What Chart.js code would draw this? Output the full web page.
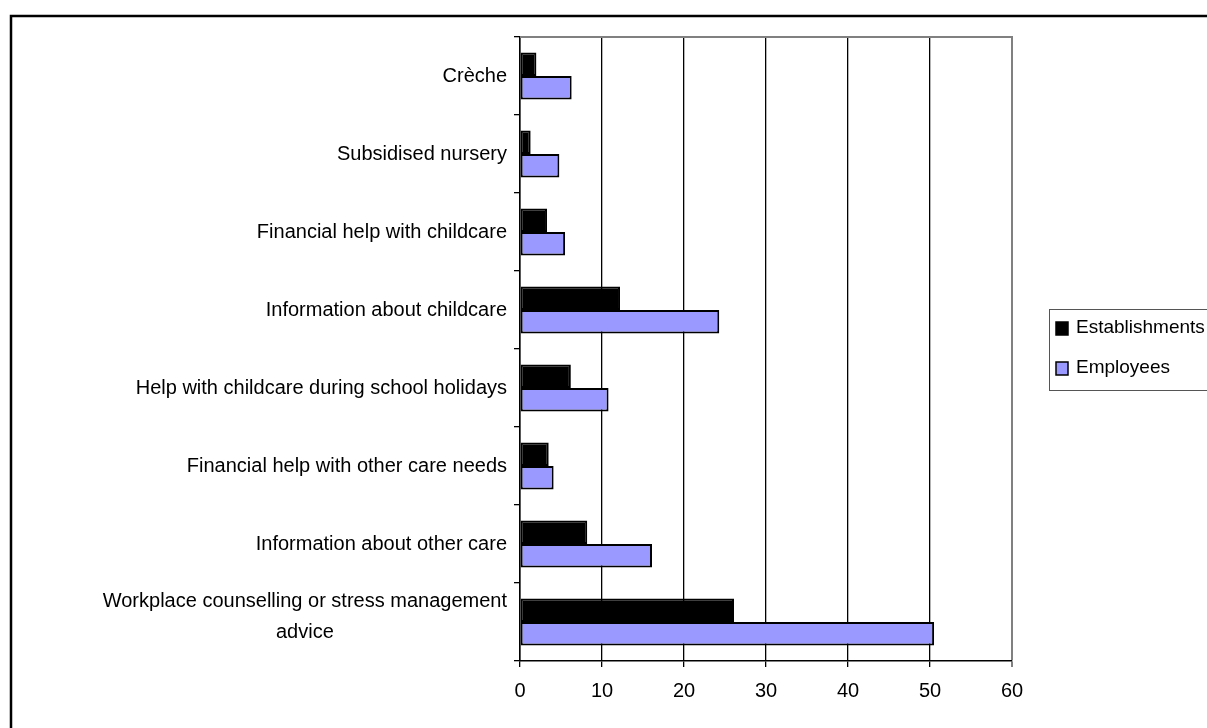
<!DOCTYPE html>
<html>
<head>
<meta charset="utf-8">
<script src="https://cdn.jsdelivr.net/npm/chart.js@4"></script>
<style>
  html, body { margin: 0; padding: 0; background: #fff; overflow: hidden; }
  #wrap { width: 1207px; height: 728px; position: relative; }
</style>
</head>
<body>
<div id="wrap"><canvas id="myChart" width="1207" height="728"></canvas></div>
<script>
const categories = [
  'Crèche',
  'Subsidised nursery',
  'Financial help with childcare',
  'Information about childcare',
  'Help with childcare during school holidays',
  'Financial help with other care needs',
  'Information about other care',
  ['Workplace counselling or stress management', 'advice']
];
const establishments = [2, 1.3, 3.3, 12.2, 6.2, 3.5, 8.2, 26.1];
const employees = [6.3, 4.8, 5.5, 24.3, 10.8, 4.1, 16.1, 50.5];
const xTicks = [0, 10, 20, 30, 40, 50, 60];

const FONT = '"Liberation Sans", Arial, sans-serif';

// frame, plot border, category labels and legend box
const extras = {
  id: 'extras',
  beforeDraw(chart) {
    const ctx = chart.ctx;
    ctx.save();
    ctx.fillStyle = '#fff';
    ctx.fillRect(0, 0, chart.width, chart.height);
    ctx.strokeStyle = '#000';
    ctx.lineWidth = 2.5;
    ctx.strokeRect(11, 16, 1400, 900);
    ctx.restore();
  },
  afterDraw(chart) {
    const ctx = chart.ctx;
    const area = chart.chartArea;
    const y = chart.scales.y;
    ctx.save();
    // top border of the plot
    ctx.strokeStyle = '#808080';
    ctx.lineWidth = 2;
    ctx.beginPath();
    ctx.moveTo(area.left, area.top);
    ctx.lineTo(area.right + 1, area.top);
    ctx.stroke();

    // category labels
    ctx.fillStyle = '#000';
    ctx.font = '20px ' + FONT;
    ctx.textBaseline = 'middle';
    ctx.textAlign = 'center';
    const right = area.left - 13;
    categories.forEach((lab, i) => {
      const lines = Array.isArray(lab) ? lab : [lab];
      const widest = Math.max(...lines.map(l => ctx.measureText(l).width));
      const cx = right - widest / 2;
      const lh = 31;
      const cy = y.getPixelForValue(i) - (lines.length > 1 ? 5 : 0);
      const y0 = cy - (lines.length - 1) * lh / 2;
      lines.forEach((l, k) => ctx.fillText(l, cx, y0 + k * lh));
    });

    // legend
    const lx = 1049, ly = 309;
    ctx.strokeStyle = '#555';
    ctx.lineWidth = 1;
    ctx.strokeRect(lx + 0.5, ly + 0.5, 200, 81);
    ctx.textAlign = 'left';
    ctx.font = '19px ' + FONT;
    chart.data.datasets.forEach((ds, k) => {
      const iy = ly + 19 + k * 40;
      ctx.fillStyle = ds.backgroundColor;
      ctx.fillRect(lx + 7, iy - 6, 12, 13);
      ctx.strokeStyle = '#000';
      ctx.lineWidth = 1.5;
      ctx.strokeRect(lx + 7, iy - 6, 12, 13);
      ctx.fillStyle = '#000';
      ctx.fillText(ds.label, lx + 27, iy);
    });
    ctx.restore();
  }
};

new Chart(document.getElementById('myChart').getContext('2d'), {
  type: 'bar',
  data: {
    labels: categories,
    datasets: [
      {
        label: 'Establishments',
        data: establishments,
        backgroundColor: '#000000',
        borderColor: '#000000',
        borderWidth: 2,
        borderSkipped: false
      },
      {
        label: 'Employees',
        data: employees,
        backgroundColor: '#9999ff',
        borderColor: '#000000',
        borderWidth: 2,
        borderSkipped: false
      }
    ]
  },
  plugins: [extras],
  options: {
    indexAxis: 'y',
    responsive: false,
    animation: false,
    layout: { padding: { left: 0, top: 37, right: 195, bottom: 0 } },
    datasets: { bar: { barPercentage: 1, categoryPercentage: 0.6 } },
    plugins: {
      legend: { display: false },
      tooltip: { enabled: false },
      title: { display: false }
    },
    scales: {
      x: {
        min: 0,
        max: 60,
        afterFit(scale) { scale.height = 67; },
        afterBuildTicks(scale) { scale.ticks = xTicks.map(v => ({ value: v })); },
        ticks: {
          color: '#000',
          padding: 12,
          font: { family: FONT, size: 20 }
        },
        grid: {
          color: ctx => (ctx.tick && ctx.tick.value === 60 ? '#808080' : '#000'),
          lineWidth: ctx => (ctx.tick && ctx.tick.value === 60 ? 2 : 1.3),
          tickLength: 6,
          drawTicks: true
        },
        border: { color: '#000', width: 1.5 }
      },
      y: {
        afterFit(scale) { scale.width = 520; },
        ticks: { display: false },
        grid: {
          drawOnChartArea: false,
          drawTicks: true,
          tickLength: 6,
          color: '#000',
          lineWidth: 1.3
        },
        border: { color: '#000', width: 1.5 }
      }
    }
  }
});
</script>
</body>
</html>
